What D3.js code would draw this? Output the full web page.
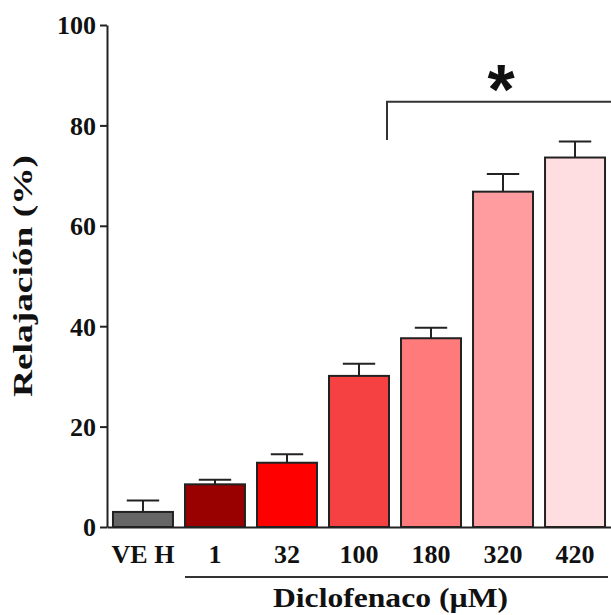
<!DOCTYPE html>
<html>
<head>
<meta charset="utf-8">
<script src="https://cdn.jsdelivr.net/npm/d3@7"></script>
<style>
  html, body { margin: 0; padding: 0; background: #ffffff; }
  svg { display: block; }
  .lbl { font-family: "Liberation Serif", "Times New Roman", serif; font-weight: bold; fill: #111; }
</style>
</head>
<body>
<svg id="chart" width="611" height="615"></svg>
<script>
// Relaxation response to vehicle and increasing diclofenac concentrations
const categories = ["VEH", "1", "32", "100", "180", "320", "420"];
const tickLabels = ["VE H", "1", "32", "100", "180", "320", "420"];
const meanValues = [3.0, 8.5, 12.8, 30.1, 37.6, 66.8, 73.6];
const semValues  = [2.3, 0.9, 1.7, 2.4, 2.1, 3.5, 3.2];
const barColors  = ["#666666", "#990000", "#ff0000", "#f54141", "#ff7b7b", "#ff9c9f", "#ffdee1"];
const yTicks = [0, 20, 40, 60, 80, 100];
const yLabel = "Relajación (%)";
const xLabel = "Diclofenaco (\u00b5M)";
const sigMark = "*";
const sigFrom = "100";
const bracketLevels = [84.7, 77.1];

const svg = d3.select("#chart");
const ink = "#222222";

const x = d3.scaleBand()
  .domain(categories)
  .range([107, 611])
  .paddingInner(0.167)
  .paddingOuter(0.083);

const y = d3.scaleLinear()
  .domain([0, 100])
  .range([527, 25]);

// Bars
svg.append("g").selectAll("rect")
  .data(categories)
  .join("rect")
  .attr("x", d => x(d))
  .attr("y", (d, i) => y(meanValues[i]))
  .attr("width", x.bandwidth())
  .attr("height", (d, i) => y(0) - y(meanValues[i]))
  .attr("fill", (d, i) => barColors[i])
  .attr("stroke", ink)
  .attr("stroke-width", 2);

// Upper error bars (SEM)
const capHalf = x.bandwidth() * 0.27;
const err = svg.append("g").attr("stroke", ink).attr("stroke-width", 2);
categories.forEach((d, i) => {
  const cx = x(d) + x.bandwidth() / 2;
  err.append("line")
    .attr("x1", cx).attr("x2", cx)
    .attr("y1", y(meanValues[i])).attr("y2", y(meanValues[i] + semValues[i]));
  err.append("line")
    .attr("x1", cx - capHalf).attr("x2", cx + capHalf)
    .attr("y1", y(meanValues[i] + semValues[i])).attr("y2", y(meanValues[i] + semValues[i]));
});

// Y axis
const yAxis = svg.append("g")
  .attr("transform", "translate(107,0)")
  .call(d3.axisLeft(y).tickValues(yTicks).tickSize(7).tickSizeOuter(0).tickPadding(4));
yAxis.select(".domain").attr("stroke", ink).attr("stroke-width", 2);
yAxis.selectAll(".tick line").attr("stroke", ink).attr("stroke-width", 2);
yAxis.selectAll(".tick text")
  .attr("class", "lbl")
  .attr("dy", "0.34em")
  .style("font-size", "26px");

// X axis baseline and category labels
const xAxis = svg.append("g")
  .attr("transform", `translate(0,${y(0)})`)
  .call(d3.axisBottom(x).tickSize(0).tickSizeOuter(0).tickPadding(0).tickFormat((d, i) => tickLabels[i]));
xAxis.select(".domain").attr("stroke", ink).attr("stroke-width", 2);
xAxis.selectAll(".tick text")
  .attr("class", "lbl")
  .attr("y", 36)
  .attr("dy", 0)
  .style("font-size", "26px");

// Line grouping the diclofenac concentrations
svg.append("line")
  .attr("x1", x("1")).attr("x2", 608)
  .attr("y1", 577).attr("y2", 577)
  .attr("stroke", "#333").attr("stroke-width", 2);

svg.append("text")
  .attr("class", "lbl")
  .attr("x", 390.5).attr("y", 607)
  .attr("text-anchor", "middle")
  .attr("textLength", 235)
  .attr("lengthAdjust", "spacingAndGlyphs")
  .style("font-size", "27px")
  .text(xLabel);

// Y axis title
svg.append("text")
  .attr("class", "lbl")
  .attr("transform", "translate(32,276) rotate(-90)")
  .attr("text-anchor", "middle")
  .attr("textLength", 242)
  .attr("lengthAdjust", "spacingAndGlyphs")
  .style("font-size", "27px")
  .text(yLabel);

// Significance bracket
const bx = x(sigFrom) + x.bandwidth() - 2;
svg.append("path")
  .attr("d", `M${bx},${y(bracketLevels[1])}V${y(bracketLevels[0])}H611`)
  .attr("fill", "none")
  .attr("stroke", "#333")
  .attr("stroke-width", 2);

svg.append("text")
  .attr("x", 501).attr("y", 114)
  .attr("text-anchor", "middle")
  .style("font-family", "'Liberation Sans', Arial, sans-serif")
  .style("font-weight", "bold")
  .style("font-size", "70px")
  .attr("fill", "#111")
  .text(sigMark);
</script>
</body>
</html>
